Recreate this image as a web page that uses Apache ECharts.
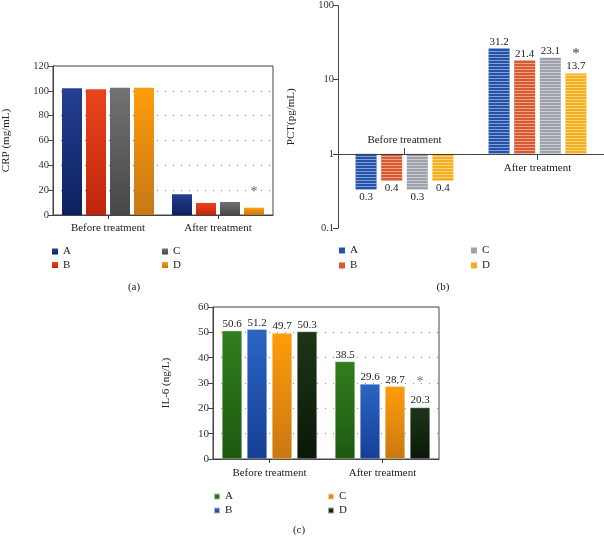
<!DOCTYPE html>
<html><head><meta charset="utf-8">
<script src="https://cdn.jsdelivr.net/npm/echarts@6/dist/echarts.min.js"></script>
<style>html,body{margin:0;padding:0;background:#fff}#c{width:604px;height:537px}</style>
</head><body><div id="c"></div>
<script>
// ---- data ----
const categories = ['Before treatment', 'After treatment'];
const groups = ['A', 'B', 'C', 'D'];
// (a) CRP (mg/mL)
const crpA = [102.0, 16.7];
const crpB = [101.2, 9.7];
const crpC = [102.5, 10.5];
const crpD = [102.5, 5.9];
const crpStarD = [false, true];
// (b) PCT (pg/mL) - bar heights as drawn, and printed labels
const pctA = [0.33, 26.5];
const pctB = [0.43, 18.3];
const pctC = [0.33, 19.8];
const pctD = [0.43, 12.1];
const pctLabelA = ['0.3', '31.2'];
const pctLabelB = ['0.4', '21.4'];
const pctLabelC = ['0.3', '23.1'];
const pctLabelD = ['0.4', '13.7'];
const pctStarD = [false, true];
// (c) IL-6 (ng/L)
const il6A = [50.6, 38.5];
const il6B = [51.2, 29.6];
const il6C = [49.7, 28.7];
const il6D = [50.3, 20.3];
const il6StarD = [false, true];
const pctTicks = [0.1, 1, 10, 100];

const serif = '"Liberation Serif", "DejaVu Serif", serif';
const axisCol = '#444';
function grad(t, b) {
  return new echarts.graphic.LinearGradient(0, 0, 0, 1, [{offset: 0, color: t}, {offset: 1, color: b}]);
}
const dotted = {show: true, lineStyle: {color: '#8a8a8a', type: [1, 7], width: 1}};

function valueY(grid, min, max, interval, name, fs) {
  return {
    type: 'value', gridIndex: grid, min: min, max: max, interval: interval,
    name: name, nameLocation: 'middle', nameRotate: 90, nameGap: 41,
    nameTextStyle: {fontFamily: serif, fontSize: 11, color: '#222'},
    axisLine: {show: true, lineStyle: {color: axisCol}},
    axisTick: {show: true, length: 5, lineStyle: {color: axisCol}},
    axisLabel: {fontFamily: serif, fontSize: fs, color: '#333', margin: 4},
    splitLine: dotted
  };
}
function catX(grid, margin) {
  return {
    type: 'category', gridIndex: grid, data: categories,
    axisLine: {show: true, onZero: false, lineStyle: {color: axisCol}},
    axisTick: {show: true, alignWithLabel: true, length: 4, lineStyle: {color: axisCol}},
    axisLabel: {fontFamily: serif, fontSize: 11, color: '#222', margin: margin}
  };
}

// (a) series
const aColors = [grad('#243f93', '#0d215e'), grad('#ea441c', '#bf260c'), grad('#727272', '#474747'), grad('#ff9d0a', '#c57818')];
const aData = [crpA, crpB, crpC, crpD];
const aSeries = aData.map((arr, k) => ({
  name: 'a-' + groups[k], type: 'bar', xAxisIndex: 0, yAxisIndex: 0,
  barWidth: 20, barGap: '20%',
  itemStyle: {color: aColors[k]},
  data: arr.map((v, i) => (k === 3 && crpStarD[i]) ?
    {value: v, label: {show: true, position: 'top', distance: 8, formatter: '*', fontFamily: serif, fontSize: 14, color: '#666'}} : v)
}));

// (b) series
const bBase = ['#2352ab', '#d95a2f', '#9da1ab', '#f4b01c'];
const bData = [pctA, pctB, pctC, pctD];
const bLabels = [pctLabelA, pctLabelB, pctLabelC, pctLabelD];
const bSeries = bData.map((arr, k) => ({
  name: 'b-' + groups[k], type: 'bar', xAxisIndex: 1, yAxisIndex: 1,
  barWidth: 21, barGap: '22%',
  itemStyle: {color: bBase[k], decal: {symbol: 'rect', symbolSize: 1, symbolKeepAspect: false,
    color: 'rgba(255,255,255,0.45)', dashArrayX: [1, 0], dashArrayY: [1, 2], rotation: 0}},
  label: {show: true, fontFamily: serif, fontSize: 11, color: '#222',
    rich: {s: {fontFamily: serif, fontSize: 15, color: '#333', lineHeight: 12}, v: {fontFamily: serif, fontSize: 11, color: '#222', lineHeight: 12}},
    formatter: p => (k === 3 && pctStarD[p.dataIndex]) ? '{s|*}\n{v|' + bLabels[k][p.dataIndex] + '}' : bLabels[k][p.dataIndex]},
  data: arr.map(v => ({value: v, label: {position: v < 1 ? 'bottom' : 'top', distance: v < 1 ? 2 : 1}}))
}));
// horizontal base line at 1 for (b)
bSeries[0].markLine = {silent: true, symbol: 'none', label: {show: false},
  lineStyle: {color: axisCol, type: 'solid', width: 1}, data: [{yAxis: 1}]};

// (c) series
const cColors = [grad('#317e1e', '#1c5a0f'), grad('#2b65c4', '#163f96'), grad('#ff9c0a', '#c97812'), grad('#1e3518', '#0a1807')];
const cData = [il6A, il6B, il6C, il6D];
const cSeries = cData.map((arr, k) => ({
  name: 'c-' + groups[k], type: 'bar', xAxisIndex: 3, yAxisIndex: 2,
  barWidth: 20, barGap: '25%',
  itemStyle: {color: cColors[k], borderColor: 'rgba(255,255,255,0.6)', borderWidth: 0.5},
  label: {show: true, position: 'top', distance: 1, fontFamily: serif, fontSize: 11, color: '#222',
    rich: {s: {fontFamily: serif, fontSize: 14, color: '#777', lineHeight: 24}, v: {fontFamily: serif, fontSize: 11, color: '#222', lineHeight: 12}},
    formatter: p => (k === 3 && il6StarD[p.dataIndex]) ? '{s|*}\n{v|' + p.value + '}' : String(p.value)},
  data: arr
}));

function legend(left, top, gap, names) {
  return {left: left, top: top, orient: 'vertical', itemWidth: 6, itemHeight: 6, itemGap: gap,
    icon: 'rect', selectedMode: false, padding: 0,
    textStyle: {fontFamily: serif, fontSize: 11, color: '#222'},
    formatter: n => n.split('-')[1],
    data: names.map(n => ({name: n, itemStyle: {decal: 'none'}}))};
}

const pctYAxis = {
  type: 'log', logBase: 10, gridIndex: 1, min: pctTicks[0], max: pctTicks[pctTicks.length - 1],
  name: 'PCT(pg/mL)', nameLocation: 'middle', nameRotate: 90, nameGap: 41,
  nameTextStyle: {fontFamily: serif, fontSize: 11, color: '#222'},
  axisLine: {show: true, lineStyle: {color: axisCol}},
  axisTick: {show: true, length: 5, lineStyle: {color: axisCol}},
  axisLabel: {fontFamily: serif, fontSize: 10.5, color: '#333', margin: 4},
  splitLine: {show: false}, minorTick: {show: false}
};

const option = {
  animation: false,
  backgroundColor: '#fff',
  grid: [
    {left: 53, top: 66, width: 220, height: 149, show: true, borderColor: axisCol, borderWidth: 1, backgroundColor: 'transparent'},
    {left: 338, top: 3, width: 266, height: 225, show: false},
    {left: 213, top: 307, width: 226, height: 152, show: true, borderColor: axisCol, borderWidth: 1, backgroundColor: 'transparent'}
  ],
  xAxis: [
    catX(0, 8),
    {type: 'category', gridIndex: 1, data: categories, position: 'bottom', offset: -74,
      axisLine: {show: false, onZero: false},
      axisTick: {show: true, inside: true, length: 6, alignWithLabel: true, interval: (i) => i === 0, lineStyle: {color: axisCol}},
      axisLabel: {inside: true, margin: 8, interval: (i) => i === 0, fontFamily: serif, fontSize: 11, color: '#222'}},
    {type: 'category', gridIndex: 1, data: categories, position: 'bottom', offset: -74,
      axisLine: {show: false, onZero: false},
      axisTick: {show: true, inside: false, length: 6, alignWithLabel: true, interval: (i) => i === 1, lineStyle: {color: axisCol}},
      axisLabel: {inside: false, margin: 9, interval: (i) => i === 1, fontFamily: serif, fontSize: 11, color: '#222'}},
    catX(2, 9)
  ],
  yAxis: [
    valueY(0, 0, 120, 20, 'CRP (mg/mL)', 10.5),
    pctYAxis,
    valueY(2, 0, 60, 10, 'IL-6 (ng/L)', 11)
  ],
  legend: [
    legend(52, 246, 2.5, ['a-A', 'a-B']),
    legend(162, 246, 2.5, ['a-C', 'a-D']),
    legend(339, 245, 4, ['b-A', 'b-B']),
    legend(471, 245, 4, ['b-C', 'b-D']),
    legend(213, 491, 3, ['c-A', 'c-B']),
    legend(327, 491, 3, ['c-C', 'c-D'])
  ],
  graphic: [
    {type: 'text', x: 134, y: 287, style: {text: '(a)', textAlign: 'center', textVerticalAlign: 'middle', font: '11px ' + serif, fill: '#222'}},
    {type: 'text', x: 443, y: 287, style: {text: '(b)', textAlign: 'center', textVerticalAlign: 'middle', font: '11px ' + serif, fill: '#222'}},
    {type: 'text', x: 299, y: 530, style: {text: '(c)', textAlign: 'center', textVerticalAlign: 'middle', font: '11px ' + serif, fill: '#222'}}
  ],
  series: [].concat(aSeries, bSeries, cSeries)
};
const chart = echarts.init(document.getElementById('c'), null, {renderer: 'canvas'});
chart.setOption(option);
</script></body></html>
